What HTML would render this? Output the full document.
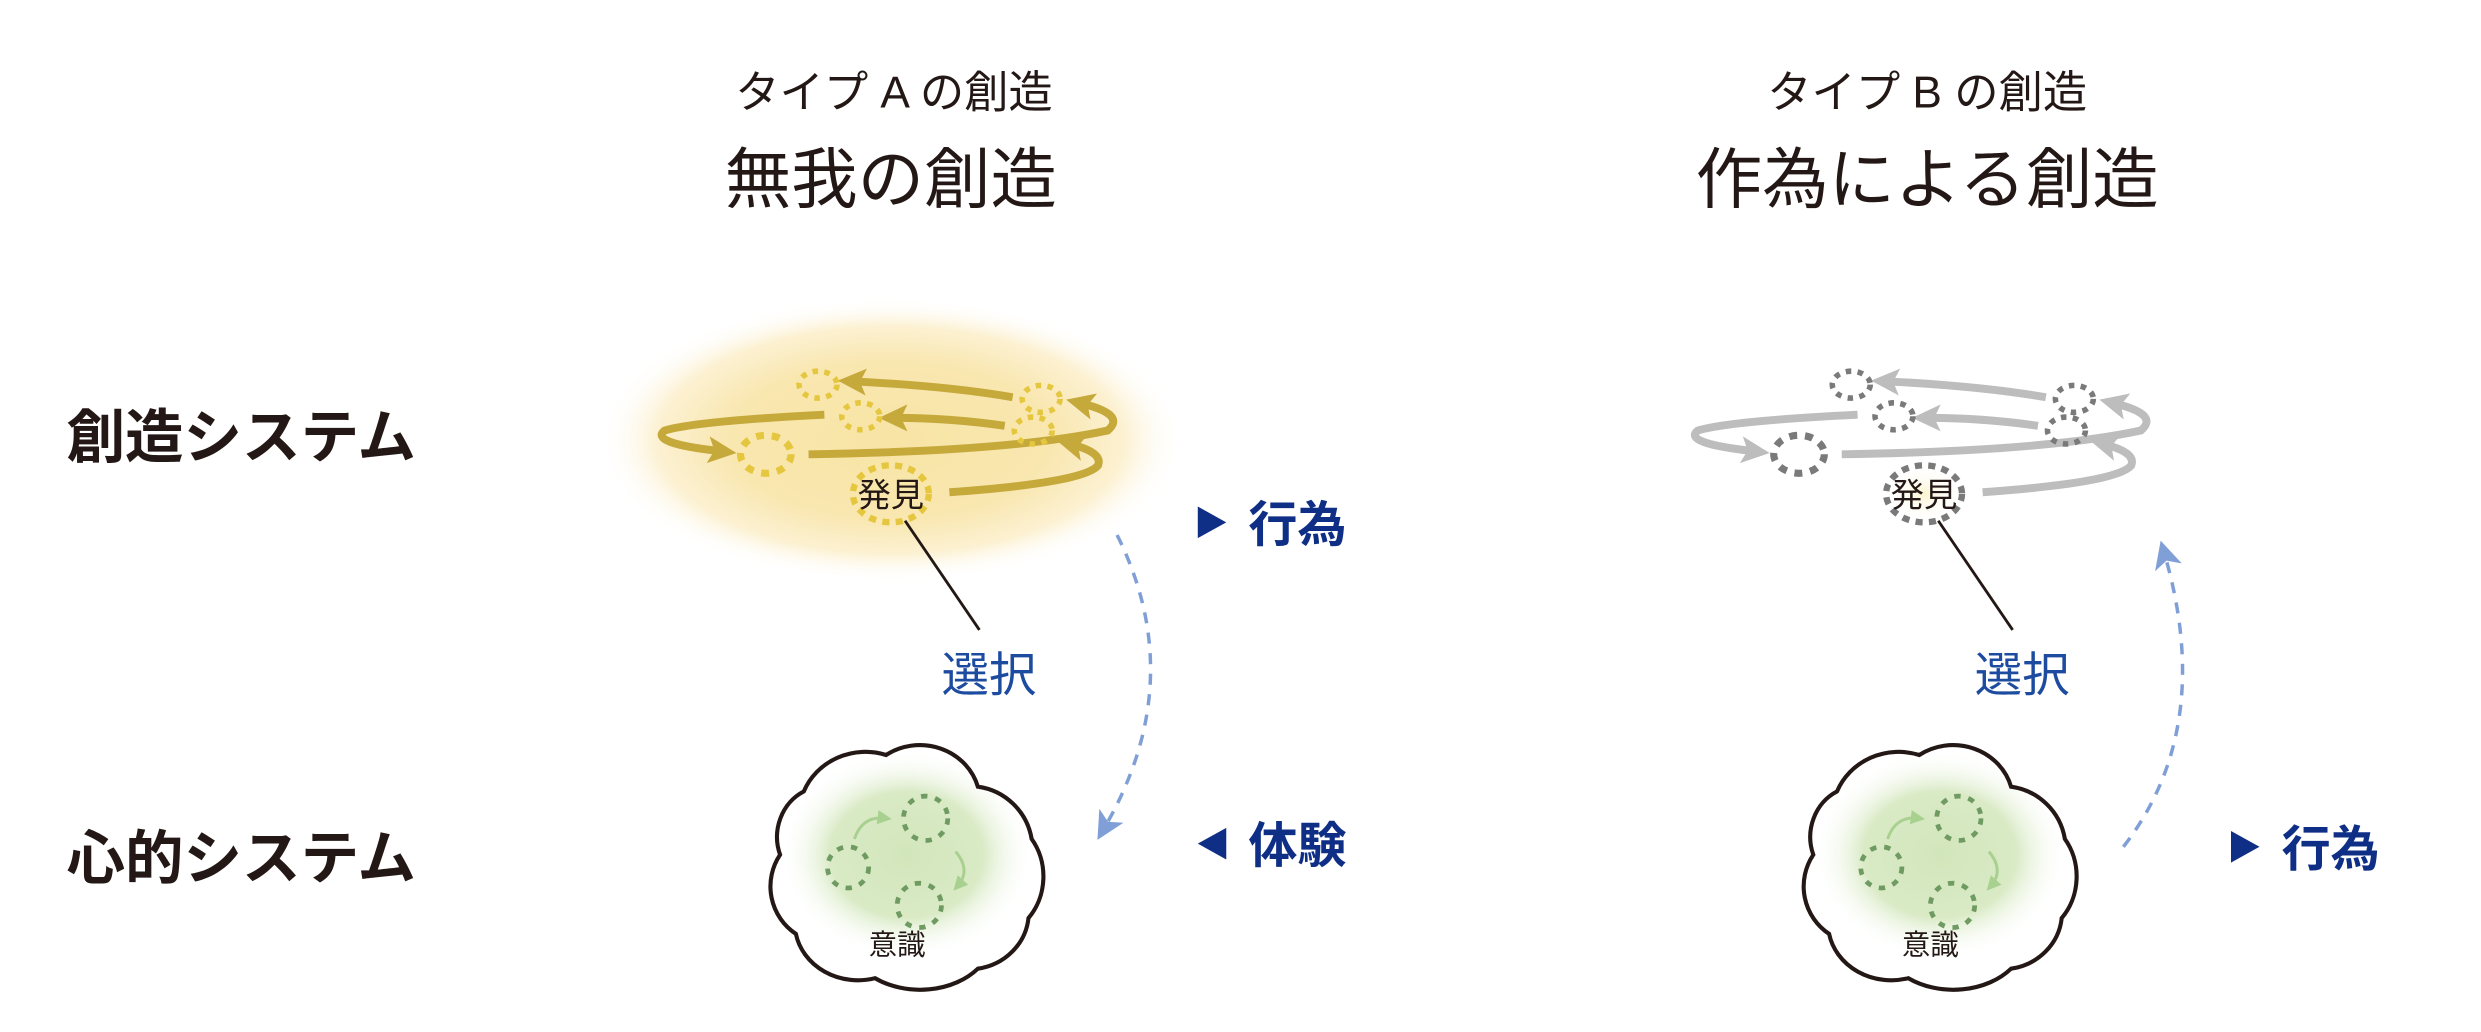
<!DOCTYPE html>
<html><head><meta charset="utf-8"><style>
html,body{margin:0;padding:0;background:#fff;}
svg{display:block}
text{font-family:"Liberation Sans","Noto Sans CJK JP",sans-serif;}
</style></head><body>
<svg width="2481" height="1032" viewBox="0 0 1568 652" preserveAspectRatio="none" xmlns="http://www.w3.org/2000/svg">
<defs>
<radialGradient id="glow" cx="0.5" cy="0.5" r="0.5">
<stop offset="0" stop-color="#f8e4a4"/><stop offset="0.55" stop-color="#f9e7b0"/><stop offset="0.8" stop-color="#fcf1d2"/><stop offset="1" stop-color="#fff" stop-opacity="0"/>
</radialGradient>
<radialGradient id="green" cx="0.5" cy="0.5" r="0.5">
<stop offset="0" stop-color="#d2e6bb"/><stop offset="0.6" stop-color="#d9eac5"/><stop offset="1" stop-color="#fff" stop-opacity="0"/>
</radialGradient>
<radialGradient id="ylw" cx="0.5" cy="0.5" r="0.5">
<stop offset="0" stop-color="#fbf3cf"/><stop offset="1" stop-color="#fff" stop-opacity="0"/>
</radialGradient>
<marker id="ay" markerWidth="4" markerHeight="4" refX="1.5" refY="2" orient="auto" markerUnits="strokeWidth"><path d="M0,0.3 L3.6,2 L0,3.7 L0.8,2 Z" fill="#c6a93b"/></marker>
<marker id="ag" markerWidth="4" markerHeight="4" refX="1.5" refY="2" orient="auto" markerUnits="strokeWidth"><path d="M0,0.3 L3.6,2 L0,3.7 L0.8,2 Z" fill="#bdbdbd"/></marker>
<marker id="ab" markerWidth="8" markerHeight="8" refX="4" refY="4" orient="auto" markerUnits="strokeWidth"><path d="M0,0 L8,4 L0,8 L2,4 Z" fill="#7f9fd6"/></marker>
<marker id="agr" markerWidth="6" markerHeight="6" refX="3" refY="3" orient="auto" markerUnits="strokeWidth"><path d="M0,0.5 L5,3 L0,5.5 Z" fill="#a8d08f"/></marker>
</defs>

<!-- titles -->
<text x="565" y="68" font-size="28" text-anchor="middle" fill="#231815">タイプ A の創造</text>
<text x="563" y="128" font-size="42" text-anchor="middle" fill="#231815">無我の創造</text>
<text x="1218" y="68" font-size="28" text-anchor="middle" fill="#231815">タイプ B の創造</text>
<text x="1218" y="128" font-size="42" text-anchor="middle" fill="#231815">作為による創造</text>

<text x="42" y="289" font-size="37" font-weight="bold" fill="#231815">創造システム</text>
<text x="42" y="555" font-size="37" font-weight="bold" fill="#231815">心的システム</text>

<!-- LEFT spiral -->
<ellipse cx="563" cy="278" rx="185" ry="90" fill="url(#glow)"/>
<g fill="none" stroke="#c6a93b" stroke-width="5" stroke-linecap="butt">
<path d="M640,251 Q600,244 540,241" marker-end="url(#ay)"/>
<path d="M635,269 Q600,264 566,264" marker-end="url(#ay)"/>
<path d="M521,262 Q440,266 420,272 Q410,280 455,285" marker-end="url(#ay)"/>
<path d="M511,287 Q640,285 700,272 Q712,262 684,255" marker-end="url(#ay)"/>
<path d="M600,311 Q685,305 694,294 Q697,286 678,281" marker-end="url(#ay)"/>
</g>
<g fill="none" stroke="#e5c63f" stroke-width="3.5" stroke-dasharray="3.5 4">
<ellipse cx="517" cy="243" rx="12" ry="8.5"/>
<ellipse cx="544" cy="263" rx="12" ry="8.5"/>
<ellipse cx="658" cy="252" rx="12" ry="8.5"/>
<ellipse cx="653" cy="272" rx="12" ry="8.5"/>
<ellipse cx="484" cy="287" rx="16" ry="12" stroke-width="4.5" stroke-dasharray="5 5"/>
<ellipse cx="563" cy="312" rx="24" ry="18" stroke-width="4" stroke-dasharray="4.5 4"/>
</g>
<text x="563" y="320" font-size="21" text-anchor="middle" fill="#231815">発見</text>
<line x1="572" y1="329" x2="619" y2="398" stroke="#231815" stroke-width="1.8"/>
<text x="625" y="437" font-size="30" text-anchor="middle" fill="#1d4ba0">選択</text>
<path d="M706,338 Q752,430 698,523" fill="none" stroke="#7f9fd6" stroke-width="2.2" stroke-dasharray="7 6" marker-end="url(#ab)"/>

<!-- LEFT cloud -->
<ellipse cx="573" cy="540" rx="80" ry="66" fill="url(#green)"/>
<path d="M508,500 A42 40 0 0 1 560,477 A38 36 0 0 1 618,497 A40 40 0 0 1 652,530 A34 38 0 0 1 650,580 A38 36 0 0 1 618,612 A46 34 0 0 1 553,618 A40 36 0 0 1 503,590 A36 36 0 0 1 493,540 A30 32 0 0 1 508,500 Z" fill="none" stroke="#231815" stroke-width="2.6"/>
<g fill="none" stroke="#6f9a62" stroke-width="3" stroke-dasharray="4 5">
<circle cx="536" cy="548" r="13"/>
<circle cx="585" cy="517" r="14"/>
<circle cx="581" cy="572" r="14"/>
</g>
<path d="M540,530 Q545,515 560,517" fill="none" stroke="#a8d08f" stroke-width="1.8" marker-end="url(#agr)"/>
<path d="M604,538 Q614,550 605,560" fill="none" stroke="#a8d08f" stroke-width="1.8" marker-end="url(#agr)"/>
<text x="567" y="603" font-size="18" text-anchor="middle" fill="#231815">意識</text>

<!-- left labels -->
<path d="M757,320 L775,330 L757,340 Z" fill="#0f2f86"/>
<text x="789" y="342" font-size="31" font-weight="bold" fill="#0f2f86">行為</text>
<path d="M775,523 L757,533 L775,543 Z" fill="#0f2f86"/>
<text x="789" y="545" font-size="31" font-weight="bold" fill="#0f2f86">体験</text>

<!-- RIGHT spiral (offset 653) -->
<g transform="translate(653,0)">
<g fill="none" stroke="#bdbdbd" stroke-width="5">
<path d="M640,251 Q600,244 540,241" marker-end="url(#ag)"/>
<path d="M635,269 Q600,264 566,264" marker-end="url(#ag)"/>
<path d="M521,262 Q440,266 420,272 Q410,280 455,285" marker-end="url(#ag)"/>
<path d="M511,287 Q640,285 700,272 Q712,262 684,255" marker-end="url(#ag)"/>
<path d="M600,311 Q685,305 694,294 Q697,286 678,281" marker-end="url(#ag)"/>
</g>
<ellipse cx="563" cy="312" rx="24" ry="18" fill="url(#ylw)"/>
<g fill="none" stroke="#7a7a7a" stroke-width="3.5" stroke-dasharray="3.5 4">
<ellipse cx="517" cy="243" rx="12" ry="8.5"/>
<ellipse cx="544" cy="263" rx="12" ry="8.5"/>
<ellipse cx="658" cy="252" rx="12" ry="8.5"/>
<ellipse cx="653" cy="272" rx="12" ry="8.5"/>
<ellipse cx="484" cy="287" rx="16" ry="12" stroke-width="4.5" stroke-dasharray="5 5"/>
<ellipse cx="563" cy="312" rx="24" ry="18" stroke-width="4" stroke-dasharray="4.5 4"/>
</g>
<text x="563" y="320" font-size="21" text-anchor="middle" fill="#231815">発見</text>
<line x1="572" y1="329" x2="619" y2="398" stroke="#231815" stroke-width="1.8"/>
<text x="625" y="437" font-size="30" text-anchor="middle" fill="#1d4ba0">選択</text>

<ellipse cx="573" cy="540" rx="80" ry="66" fill="url(#green)"/>
<path d="M508,500 A42 40 0 0 1 560,477 A38 36 0 0 1 618,497 A40 40 0 0 1 652,530 A34 38 0 0 1 650,580 A38 36 0 0 1 618,612 A46 34 0 0 1 553,618 A40 36 0 0 1 503,590 A36 36 0 0 1 493,540 A30 32 0 0 1 508,500 Z" fill="none" stroke="#231815" stroke-width="2.6"/>
<g fill="none" stroke="#6f9a62" stroke-width="3" stroke-dasharray="4 5">
<circle cx="536" cy="548" r="13"/>
<circle cx="585" cy="517" r="14"/>
<circle cx="581" cy="572" r="14"/>
</g>
<path d="M540,530 Q545,515 560,517" fill="none" stroke="#a8d08f" stroke-width="1.8" marker-end="url(#agr)"/>
<path d="M604,538 Q614,550 605,560" fill="none" stroke="#a8d08f" stroke-width="1.8" marker-end="url(#agr)"/>
<text x="567" y="603" font-size="18" text-anchor="middle" fill="#231815">意識</text>
</g>
<path d="M1342,535 Q1400,460 1368,350" fill="none" stroke="#7f9fd6" stroke-width="2.2" stroke-dasharray="7 6" marker-end="url(#ab)"/>
<path d="M1410,525 L1428,535 L1410,545 Z" fill="#0f2f86"/>
<text x="1442" y="547" font-size="31" font-weight="bold" fill="#0f2f86">行為</text>
</svg>
</body></html>
